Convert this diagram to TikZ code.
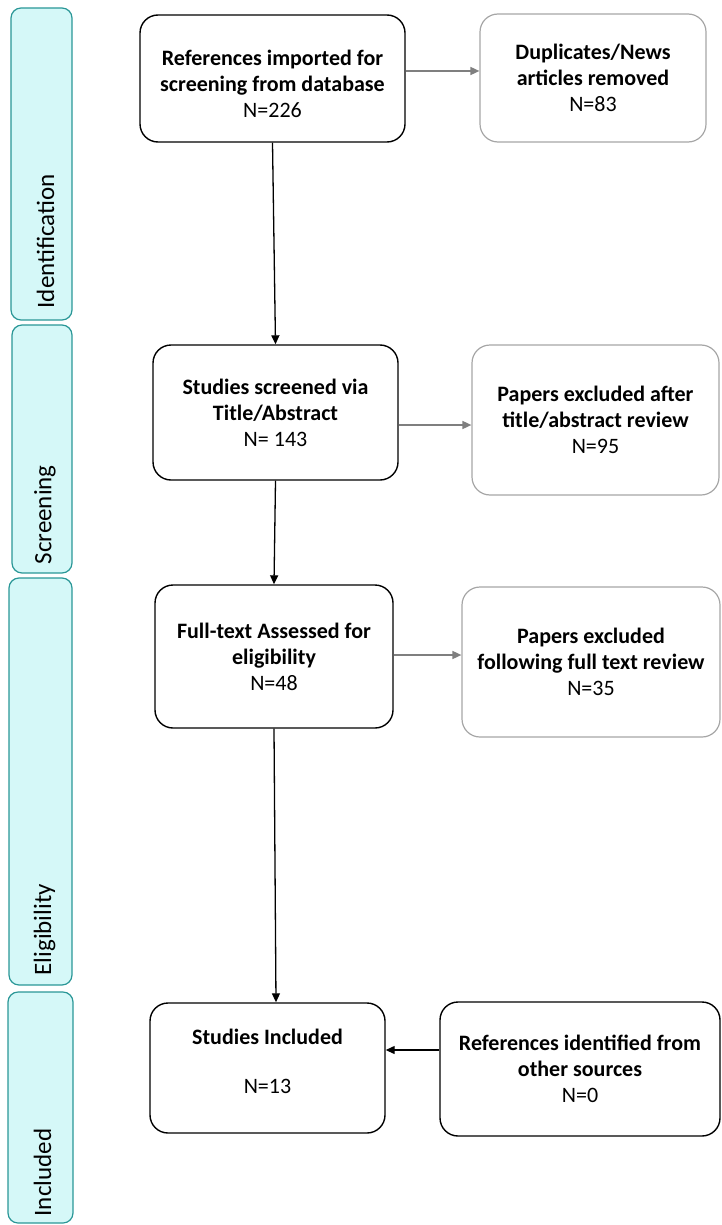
\documentclass[tikz,border=0pt]{standalone}
\usepackage{fontspec}
\setmainfont{Carlito}
\usetikzlibrary{arrows.meta}
\definecolor{barfill}{HTML}{D5F8F8}
\definecolor{barline}{HTML}{2A9797}
\definecolor{greyline}{HTML}{A6A6A6}
\definecolor{greyarrow}{HTML}{7F7F7F}
\begin{document}
\begin{tikzpicture}[x=1pt,y=-1pt]
\tikzstyle{box}=[draw,line width=1.4pt,rounded corners=18pt,align=center,inner sep=0pt,font=\fontsize{22}{26}\selectfont]
\tikzstyle{greybox}=[box,draw=greyline,line width=1.2pt]
\tikzstyle{stage}=[draw=barline,fill=barfill,line width=1.2pt,rounded corners=10pt,inner sep=0pt]
\tikzstyle{stagetext}=[rotate=90,anchor=west,inner sep=0pt,font=\fontsize{25}{28}\selectfont]
\tikzstyle{link}=[line width=1.3pt,-{Triangle[length=9pt,width=8pt]}]
\tikzstyle{greylink}=[link,draw=greyarrow,line width=1.6pt]
\useasboundingbox (0,0) rectangle (721,1225);

% stages
\path (41.5,164) node[stage,minimum width=61pt,minimum height=312pt](s1){};
\path (42,449) node[stage,minimum width=60pt,minimum height=248pt](s2){};
\path (40.5,781.5) node[stage,minimum width=63pt,minimum height=407pt](s3){};
\path (40.5,1107.5) node[stage,minimum width=65pt,minimum height=231pt](s4){};
\node[stagetext] (t1) at ([xshift=4pt,yshift=12pt]s1.south) {Identification};
\node[stagetext] (t2) at ([xshift=3pt,yshift=9pt]s2.south) {Screening};
\node[stagetext] (t3) at ([xshift=4pt,yshift=10pt]s3.south) {Eligibility};
\node[stagetext] (t4) at ([xshift=2pt,yshift=7pt]s4.south) {Included};

% main column
\path (272.5,78.5) node[box,minimum width=265pt,minimum height=127pt](r1){\rule{0pt}{26pt}\textbf{References imported for}\\\textbf{screening from database}\\N=226};
\path (275.5,412.5) node[box,minimum width=245pt,minimum height=135pt](r2){\textbf{Studies screened via}\\\textbf{Title/Abstract}\\N= 143};
\path (274,656.5) node[box,minimum width=238pt,minimum height=143pt](r3){\textbf{Full-text Assessed for}\\\textbf{eligibility}\\N=48};
\path (267.5,1068) node[box,minimum width=235pt,minimum height=130pt](r4){\textbf{Studies Included}\\[23pt]N=13\\[-12pt]\mbox{}};

% side column
\path (593,78) node[greybox,minimum width=226pt,minimum height=128pt](d1){\textbf{Duplicates/News}\\\textbf{articles removed}\\N=83};
\path (595.5,420) node[greybox,minimum width=247pt,minimum height=150pt](d2){\textbf{Papers excluded after}\\\textbf{title/abstract review}\\N=95};
\path (591,662) node[greybox,minimum width=258pt,minimum height=150pt](d3){\textbf{Papers excluded}\\\textbf{following full text review}\\N=35};
\path (580,1069) node[box,minimum width=280pt,minimum height=134pt](o1){\textbf{References identified from}\\\textbf{other sources}\\N=0};

\draw[link] (r1.south) -- (r2.north);
\draw[link] (r2.south) -- (r3.north);
\draw[link] (r3.south) -- ([xshift=8.5pt]r4.north);
\draw[greylink] ([yshift=7.5pt]r1.east) -- ([yshift=7pt]d1.west);
\draw[greylink] ([yshift=-12.5pt]r2.east) -- ([yshift=-5pt]d2.west);
\draw[greylink] ([yshift=1.5pt]r3.east) -- ([yshift=7pt]d3.west);
\draw[link] ([yshift=19pt]o1.west) -- ([yshift=18pt]r4.east);
\end{tikzpicture}
\end{document}
